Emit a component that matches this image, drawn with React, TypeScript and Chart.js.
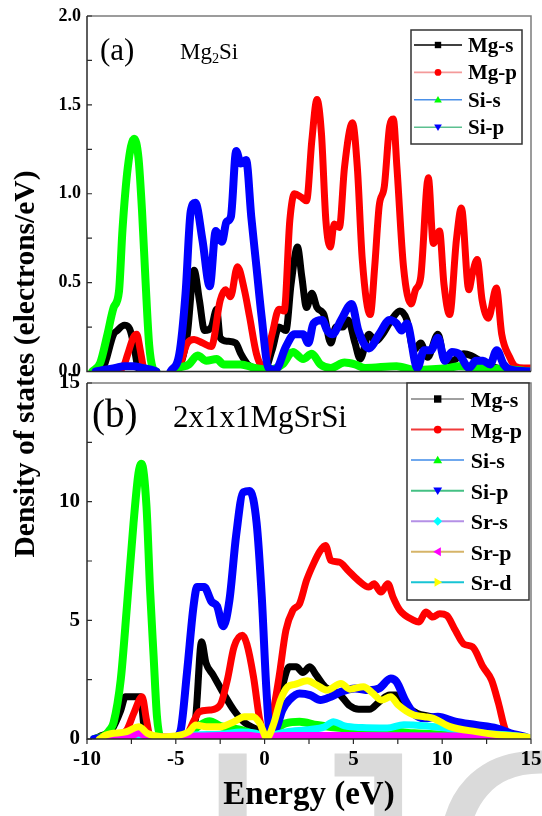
import React, { useEffect, useRef } from 'react';
import { Chart, registerables } from 'chart.js';
Chart.register(...registerables);

// ---------- tick labels ----------
const xTickValues = [-10, -5, 0, 5, 10, 15];
const aYTickValues = [0, 0.5, 1.0, 1.5, 2.0];
const bYTickValues = [0, 5, 10, 15];

// ---------- panel (a) Mg2Si ----------
const aLabels = ['Mg-s', 'Mg-p', 'Si-s', 'Si-p'];
const aMgsE = [-9.6,-9.1,-8.5,-8.3,-7.9,-7.6,-7.35,-7.15,-6.9,-6.3,-5.7,-5.2,-4.84,-4.35,-3.97,-3.67,-3.38,-3.0,-2.7,-2.5,-2.1,-1.63,-1.34,-0.95,-0.56,0,0.42,0.81,1.2,1.49,1.85,2.1,2.36,2.66,2.95,3.34,3.73,4.02,4.41,4.7,5.09,5.38,5.87,6.26,6.65,7.14,7.62,8.01,8.4,8.79,9.18,9.76,10.15,10.54,11.22,11.61,12.3,13.07,14,15];
const aMgsV = [0,0.02,0.21,0.23,0.26,0.24,0.14,0.03,0,0,null,0,0.02,0.21,0.57,0.4,0.23,0.25,0.35,0.19,0.17,0.16,0.1,0.04,0.02,0.01,0.12,0.25,0.23,0.49,0.7,0.53,0.36,0.44,0.36,0.32,0.16,0.25,0.25,0.29,0.16,0.07,0.21,0.17,0.21,0.29,0.34,0.29,0.12,0.16,0.08,0.21,0.06,0.06,0.10,0.09,0.05,0.02,0.01,0];
const aMgpE = [-8.8,-8.0,-7.7,-7.4,-7.2,-7.0,-6.8,-6.4,-5.7,-5.2,-4.84,-4.35,-3.97,-3.48,-3.0,-2.5,-2.2,-1.92,-1.53,-1.14,-0.85,-0.46,-0.07,0.42,0.81,1.1,1.42,1.68,2.07,2.36,2.66,2.95,3.2,3.45,3.7,3.92,4.21,4.5,4.95,5.22,5.5,5.95,6.2,6.45,6.74,7.04,7.25,7.45,7.82,8.25,8.5,8.79,9.22,9.5,9.85,10.1,10.42,10.8,11.08,11.5,11.7,11.97,12.25,12.6,13.05,13.35,13.8,14.1,14.6,15];
const aMgpV = [0,0.02,0.1,0.19,0.21,0.12,0.02,0,null,0,0.02,0.16,0.18,0.16,0.14,0.4,0.46,0.42,0.59,0.46,0.31,0.1,0.02,0.21,0.35,0.34,0.85,1.0,0.98,0.96,1.3,1.53,1.34,0.85,0.7,0.83,0.81,1.15,1.4,1.15,0.63,0.32,0.59,0.93,1.04,1.38,1.42,1.15,0.59,0.38,0.46,0.53,1.09,0.72,0.79,0.49,0.32,0.74,0.92,0.46,0.55,0.63,0.4,0.3,0.47,0.21,0.08,0.03,0.02,0.02];
const aSisE = [-9.7,-9.25,-8.87,-8.5,-8.2,-8.0,-7.7,-7.35,-7.1,-6.9,-6.7,-6.5,-6.3,-6.1,-5.7,-5.2,-4.84,-4.26,-3.77,-3.28,-2.7,-2.3,-1.34,-0.56,0.22,1.0,1.59,2.17,2.66,3.14,3.73,4.5,5.09,5.67,7.43,8.4,10.35,10.93,12.3,14,15];
const aSisV = [0,0.05,0.2,0.36,0.45,0.8,1.15,1.31,1.2,0.9,0.5,0.15,0.02,0,null,0,0.02,0.04,0.09,0.06,0.07,0.04,0.04,0.02,0.01,0.04,0.11,0.07,0.1,0.04,0.02,0.05,0.04,0.02,0.03,0.01,0.02,0.03,0.02,0.01,0];
const aSipE = [-9.5,-9.0,-8.4,-7.9,-7.4,-6.9,-6.4,-6.1,-5.7,-5.3,-4.8,-4.45,-4.16,-3.9,-3.5,-3.09,-2.75,-2.55,-2.4,-2.15,-1.9,-1.6,-1.34,-1.04,-0.75,-0.46,-0.17,0.22,0.61,1.2,1.68,2.17,2.46,2.75,3.24,3.53,3.82,4.31,4.9,5.28,5.87,6.45,7.04,7.43,7.72,8.01,8.6,8.98,9.37,9.76,10.15,10.54,10.93,11.52,11.9,12.3,12.7,13.07,13.46,13.85,15];
const aSipV = [0,0.01,0.02,0.03,0.03,0.02,0.01,0,null,0,0.1,0.44,0.9,0.95,0.74,0.48,0.79,0.76,0.73,0.84,0.87,1.24,1.17,1.19,0.87,0.59,0.31,0.02,0.01,0.14,0.21,0.21,0.16,0.27,0.29,0.23,0.21,0.29,0.38,0.23,0.13,0.21,0.29,0.27,0.23,0.27,0.02,0.12,0.12,0.19,0.06,0.11,0.10,0.02,0.06,0.06,0.04,0.12,0.04,0.01,0];

// ---------- panel (b) 2x1x1MgSrSi ----------
const bLabels = ['Mg-s', 'Mg-p', 'Si-s', 'Si-p', 'Sr-s', 'Sr-p', 'Sr-d'];
const bMgsE = [-9.6,-9.3,-8.6,-8.1,-7.84,-7.4,-7.0,-6.75,-6.55,-6.2,-5.5,-4.9,-4.45,-3.9,-3.55,-3.3,-2.9,-2.3,-1.72,-1.14,-0.56,0.05,0.61,1.0,1.39,1.78,2.15,2.55,2.9,3.4,4.2,4.8,5.3,5.9,6.5,7.04,7.43,8.01,8.6,9.37,10.35,11.32,12.3,13.27,14.24,15];
const bMgsV = [0,0.1,0.4,1.2,1.78,1.78,1.78,0.3,0.1,0,null,0,0.1,0.8,4.1,3.2,2.7,1.9,1.2,0.7,0.45,0.24,0.8,2.2,3.04,3.04,2.8,3.04,2.7,2.2,1.9,1.4,1.25,1.25,1.6,1.85,1.85,1.36,1.08,0.94,0.66,0.45,0.31,0.24,0.1,0];
const bMgpE = [-9.0,-8.5,-7.76,-7.37,-6.9,-6.65,-6.45,-6.2,-5.5,-4.9,-4.45,-3.96,-3.67,-3.09,-2.5,-2.1,-1.72,-1.25,-1.0,-0.62,-0.27,0.05,0.42,0.81,1.2,1.59,1.97,2.36,2.75,3.14,3.43,3.73,4.21,4.7,5.28,5.87,6.16,6.55,6.94,7.23,7.62,8.4,8.69,9.08,9.47,9.86,10.25,10.74,11.22,11.71,12.3,12.78,13.17,13.56,14.05,14.6,15];
const bMgpV = [0,0.1,0.38,1.08,1.78,0.8,0.1,0,null,0,0.1,0.8,1.15,1.22,1.43,2.48,3.88,4.37,4.0,2.6,0.8,0.24,0.94,2.6,4.58,5.42,5.7,6.68,7.38,7.94,8.15,7.52,7.45,7.1,6.68,6.4,6.54,6.19,6.54,5.98,5.42,5.0,4.93,5.35,5.14,5.28,5.21,4.58,4.0,3.88,3.04,2.48,1.5,0.38,0.1,0.05,0];
const bSisE = [-9.6,-9.0,-8.7,-8.5,-8.1,-7.75,-7.38,-7.1,-6.93,-6.65,-6.45,-6.25,-6.06,-5.87,-5.6,-5.3,-4.9,-4.3,-3.7,-3.1,-2.5,-1.34,0.05,0.6,1.2,1.97,2.95,4.5,6.45,8.4,10.35,12.3,15];
const bSisV = [0,0.15,0.4,0.7,2.5,5.6,9.1,11.2,11.6,9.8,6.3,3.5,0.94,0.1,0.05,null,0,0.2,0.55,0.75,0.55,0.38,0.1,0.4,0.66,0.73,0.59,0.45,0.38,0.24,0.17,0.1,0];
const bSipE = [-9.6,-9.0,-8.0,-7.0,-6.0,-5.75,-5.5,-5.2,-4.75,-4.37,-4.0,-3.8,-3.4,-3.0,-2.68,-2.33,-1.98,-1.6,-1.2,-0.83,-0.45,-0.16,0.1,0.3,0.61,1.0,1.39,1.97,2.56,3.14,3.73,4.31,5.09,5.87,6.45,7.1,7.43,7.91,8.4,8.98,9.76,10.74,11.9,13.07,13.85,14.63,15];
const bSipV = [0,0.05,0.08,0.08,0.05,0,null,0,0.3,2.8,5.6,6.4,6.4,5.8,5.6,4.75,5.85,8.6,10.4,10.45,9.1,6.0,2.1,0.3,0.38,1.22,1.64,1.92,1.85,1.64,1.78,1.99,2.13,2.06,2.13,2.55,2.41,1.64,1.08,0.87,0.94,0.73,0.59,0.45,0.24,0.1,0];
const bSrsE = [-9.0,-7.5,-6.0,-5.0,-4.06,-2.5,-1.34,-0.5,0.05,0.6,1.2,2.56,3.34,3.88,4.5,5.48,6.9,7.84,9.1,10.2,12.07,13.95,15];
const bSrsV = [0.05,0.1,0.05,0.05,0.17,0.2,0.3,0.25,0.1,0.2,0.3,0.4,0.5,0.73,0.55,0.48,0.46,0.6,0.55,0.46,0.25,0.15,0.05];
const bSrpE = [-9.0,-7.5,-7.1,-6.7,-6.0,-5.0,-3.0,-1.0,0.05,1.0,5.0,10.0,13.0,14.5,15];
const bSrpV = [0.1,0.12,0.25,0.12,0.1,0.1,0.14,0.16,0.08,0.15,0.15,0.13,0.1,0.05,0];
const bSrdE = [-9.3,-8.93,-7.76,-7.08,-6.6,-5.8,-5.03,-4.26,-3.87,-3.28,-2.5,-1.72,-1.14,-0.65,-0.27,0.13,0.52,0.9,1.3,1.7,2.4,2.95,3.5,4.3,4.8,5.57,6.06,6.6,7.1,7.5,8.4,9.0,9.5,10.44,11.9,13.27,14.63,15];
const bSrdV = [0,0.17,0.31,0.52,0.24,0.1,0.13,0.31,0.59,0.52,0.52,0.73,0.94,0.94,0.66,0.05,0.66,1.64,2.2,2.3,2.45,2.27,2.06,2.34,2.1,2.2,1.95,1.64,1.78,1.45,1.01,0.94,0.87,0.52,0.31,0.17,0.1,0.05];

// ---------- styles ----------
const SERIF = '"Liberation Serif", "Times New Roman", serif';
const aColors = ['#000000', '#ff0000', '#00ff00', '#0000ff'];
const aLegendLine = ['#000000', '#f49a9a', '#4a90e8', '#5cc090'];
const aShapes = ['square', 'circle', 'up', 'down'];
const aWidths = [7, 7, 8, 8];
const bColors = ['#000000', '#ff0000', '#00ff00', '#0000ff', '#00ffff', '#ff00ff', '#ffff00'];
const bLegendLine = ['#a0a0a0', '#f03a3a', '#6fa8ee', '#44c084', '#b490e6', '#d6b468', '#18c4d4'];
const bShapes = ['square', 'circle', 'up', 'down', 'diamond', 'left', 'right'];
const bWidths = [7, 7, 8, 8, 7, 7, 7];

type Pt = { x: number; y: number | null };
function pts(E: number[], V: (number | null)[]): Pt[] {
  return E.map((e, i) => ({ x: e, y: V[i] === undefined ? null : V[i] }));
}

function drawMarker(ctx: CanvasRenderingContext2D, shape: string, x: number, y: number, r: number, color: string) {
  ctx.fillStyle = color;
  ctx.beginPath();
  const t = r * 1.2;
  switch (shape) {
    case 'square': ctx.rect(x - r, y - r, 2 * r, 2 * r); break;
    case 'circle': ctx.arc(x, y, r * 1.05, 0, Math.PI * 2); break;
    case 'up': ctx.moveTo(x, y - t); ctx.lineTo(x + t, y + r * 0.85); ctx.lineTo(x - t, y + r * 0.85); break;
    case 'down': ctx.moveTo(x, y + t); ctx.lineTo(x + t, y - r * 0.85); ctx.lineTo(x - t, y - r * 0.85); break;
    case 'diamond': ctx.moveTo(x, y - t); ctx.lineTo(x + t, y); ctx.lineTo(x, y + t); ctx.lineTo(x - t, y); break;
    case 'left': ctx.moveTo(x - t, y); ctx.lineTo(x + r * 0.85, y - t); ctx.lineTo(x + r * 0.85, y + t); break;
    case 'right': ctx.moveTo(x + t, y); ctx.lineTo(x - r * 0.85, y - t); ctx.lineTo(x - r * 0.85, y + t); break;
  }
  ctx.closePath();
  ctx.fill();
}

interface LegendCfg {
  labels: string[]; lineColors: string[]; markerColors: string[]; shapes: string[];
  box: [number, number, number, number]; rowY: number; gap: number;
  line: [number, number]; markerX: number; textX: number; font: number; r: number; textDy: number; lineW: number;
}

function midpoints(v: number[]): number[] {
  const out: number[] = [];
  for (let i = 0; i < v.length; i++) {
    out.push(v[i]);
    if (i < v.length - 1) out.push((v[i] + v[i + 1]) / 2);
  }
  return out;
}

function makeDecor(yTicks: number[], xTicks: number[] | null, legend: LegendCfg) {
  return {
    id: 'decor',
    afterDatasetsDraw(chart: any) {
      const { ctx, chartArea } = chart;
      const { left, right, top, bottom } = chartArea;
      const ys = chart.scales.y; const xs = chart.scales.x;
      ctx.save();
      ctx.lineWidth = 1.5;
      ctx.strokeStyle = '#7c7c7c';
      ctx.beginPath(); ctx.moveTo(left, top); ctx.lineTo(right, top); ctx.lineTo(right, bottom); ctx.stroke();
      ctx.strokeStyle = '#2a2a2a';
      ctx.beginPath(); ctx.moveTo(left, top); ctx.lineTo(left, bottom); ctx.lineTo(right, bottom); ctx.stroke();
      ctx.lineWidth = 1.2;
      ctx.beginPath();
      for (const v of midpoints(yTicks)) {
        const py = ys.getPixelForValue(v);
        ctx.moveTo(left, py); ctx.lineTo(left + 5, py);
      }
      if (xTicks) {
        for (const e of midpoints(xTicks)) {
          const px = xs.getPixelForValue(e);
          ctx.moveTo(px, bottom); ctx.lineTo(px, bottom + 5);
        }
      }
      ctx.stroke();
      ctx.restore();
    },
    afterDraw(chart: any) {
      const ctx: CanvasRenderingContext2D = chart.ctx;
      const L = legend;
      ctx.save();
      const [x1, y1, x2, y2] = L.box;
      ctx.fillStyle = '#ffffff';
      ctx.fillRect(x1, y1, x2 - x1, y2 - y1);
      ctx.strokeStyle = '#333333';
      ctx.lineWidth = 1.5;
      ctx.strokeRect(x1, y1, x2 - x1, y2 - y1);
      L.labels.forEach((lab, i) => {
        const y = L.rowY + i * L.gap;
        ctx.strokeStyle = L.lineColors[i];
        ctx.lineWidth = L.lineW;
        ctx.beginPath(); ctx.moveTo(L.line[0], y); ctx.lineTo(L.line[1], y); ctx.stroke();
        drawMarker(ctx, L.shapes[i], L.markerX, y, L.r, L.markerColors[i]);
        ctx.fillStyle = '#000000';
        ctx.font = `bold ${L.font}px ${SERIF}`;
        ctx.textAlign = 'left';
        ctx.textBaseline = 'middle';
        ctx.fillText(lab, L.textX, y + L.textDy);
      });
      ctx.restore();
    },
  };
}

function makeDatasets(series: Pt[][], labels: string[], colors: string[], widths: number[]) {
  return series.map((data, i) => ({
    label: labels[i],
    data,
    borderColor: colors[i],
    backgroundColor: colors[i],
    borderWidth: widths[i],
    pointRadius: 0,
    pointHoverRadius: 0,
    fill: false,
    spanGaps: false,
    cubicInterpolationMode: 'monotone' as const,
    borderJoinStyle: 'round' as const,
    borderCapStyle: 'round' as const,
    clip: 0,
    order: 20 - i,
  }));
}

const fitY = (s: any) => { s.width = 87; s.paddingTop = 0; s.paddingBottom = 0; };
const fitX = (h: number) => (s: any) => { s.height = h; s.paddingLeft = 0; s.paddingRight = 0; };

function configA(): any {
  const series = [pts(aMgsE, aMgsV), pts(aMgpE, aMgpV), pts(aSisE, aSisV), pts(aSipE, aSipV)];
  const legend: LegendCfg = {
    labels: aLabels, lineColors: aLegendLine, markerColors: aColors, shapes: aShapes,
    box: [411, 30, 522, 144], rowY: 45, gap: 27.4, line: [414, 462], markerX: 438, textX: 468,
    font: 21, r: 3.2, textDy: 1.5, lineW: 1.6,
  };
  return {
    type: 'line',
    data: { datasets: makeDatasets(series, aLabels, aColors, aWidths) },
    options: {
      responsive: false,
      animation: false,
      events: [],
      layout: { padding: { left: 0, right: 11, top: 16, bottom: 20.5 } },
      plugins: { legend: { display: false }, tooltip: { enabled: false } },
      scales: {
        x: { type: 'linear', min: -10, max: 15, display: false },
        y: {
          type: 'linear', min: 0, max: 2,
          grid: { display: false, drawTicks: false },
          border: { display: false },
          afterBuildTicks: (s: any) => { s.ticks = aYTickValues.map((v) => ({ value: v })); },
          afterFit: fitY,
          ticks: {
            padding: 6, color: '#000',
            font: { family: SERIF, weight: 'bold', size: 18 },
            callback: (v: number) => Number(v).toFixed(1),
          },
        },
      },
    },
    plugins: [makeDecor(aYTickValues, null, legend)],
  };
}

function configB(): any {
  const series = [pts(bMgsE, bMgsV), pts(bMgpE, bMgpV), pts(bSisE, bSisV), pts(bSipE, bSipV), pts(bSrsE, bSrsV), pts(bSrpE, bSrpV), pts(bSrdE, bSrdV)];
  const legend: LegendCfg = {
    labels: bLabels, lineColors: bLegendLine, markerColors: bColors, shapes: bShapes,
    box: [407, 11, 529, 228], rowY: 27, gap: 30.55, line: [411, 464], markerX: 437.7, textX: 470.7,
    font: 22, r: 3.7, textDy: 2.5, lineW: 2,
  };
  return {
    type: 'line',
    data: { datasets: makeDatasets(series, bLabels, bColors, bWidths) },
    options: {
      responsive: false,
      animation: false,
      events: [],
      layout: { padding: { left: 0, right: 11, top: 11, bottom: 0 } },
      plugins: { legend: { display: false }, tooltip: { enabled: false } },
      scales: {
        x: {
          type: 'linear', min: -10, max: 15,
          grid: { display: false, drawTicks: false },
          border: { display: false },
          afterBuildTicks: (s: any) => { s.ticks = xTickValues.map((v) => ({ value: v })); },
          afterFit: fitX(77),
          ticks: {
            padding: 8, color: '#000', maxRotation: 0, autoSkip: false,
            font: { family: SERIF, weight: 'bold', size: 21 },
            callback: (v: number) => String(v),
          },
          title: {
            display: true, text: 'Energy (eV)', color: '#000',
            font: { family: SERIF, weight: 'bold', size: 33 },
            padding: { top: 0, bottom: 1 },
          },
        },
        y: {
          type: 'linear', min: 0, max: 15,
          grid: { display: false, drawTicks: false },
          border: { display: false },
          afterBuildTicks: (s: any) => { s.ticks = bYTickValues.map((v) => ({ value: v })); },
          afterFit: fitY,
          ticks: {
            padding: 7, color: '#000',
            font: { family: SERIF, weight: 'bold', size: 21 },
            callback: (v: number) => String(v),
          },
        },
      },
    },
    plugins: [makeDecor(bYTickValues, xTickValues, legend)],
  };
}

export default function App() {
  const refA = useRef<HTMLCanvasElement>(null);
  const refB = useRef<HTMLCanvasElement>(null);
  useEffect(() => {
    const ca = new Chart(refA.current as HTMLCanvasElement, configA());
    const cb = new Chart(refB.current as HTMLCanvasElement, configB());
    return () => { ca.destroy(); cb.destroy(); };
  }, []);
  const txt = (extra: React.CSSProperties): React.CSSProperties => ({
    position: 'absolute', fontFamily: SERIF, lineHeight: 1, whiteSpace: 'nowrap', color: '#000', ...extra,
  });
  return (
    <div style={{ position: 'fixed', left: 0, top: 0, width: 542, height: 816, overflow: 'hidden', background: '#fff' }}>
      <div style={{ position: 'absolute', left: 191, top: 706, fontFamily: '"Liberation Sans", Arial, sans-serif', fontSize: 300, lineHeight: 1, color: '#dadada', whiteSpace: 'nowrap' }}>IJC</div>
      <canvas ref={refA} width={542} height={392} style={{ position: 'absolute', left: 0, top: 0 }} />
      <canvas ref={refB} width={542} height={444} style={{ position: 'absolute', left: 0, top: 372 }} />
      <div style={txt({ left: 100, top: 33.5, fontSize: 31 })}>(a)</div>
      <div style={txt({ left: 180, top: 40, fontSize: 23 })}>
        Mg<span style={{ fontSize: '0.62em', verticalAlign: '-0.28em' }}>2</span>Si
      </div>
      <div style={txt({ left: 92, top: 393.7, fontSize: 39 })}>(b)</div>
      <div style={txt({ left: 173, top: 401.3, fontSize: 31 })}>2x1x1MgSrSi</div>
      <div style={{
        position: 'absolute', left: 24 - 260, top: 364 - 15, width: 520, height: 30, lineHeight: '30px',
        textAlign: 'center', fontFamily: SERIF, fontWeight: 'bold', fontSize: 29.5, whiteSpace: 'nowrap',
        transform: 'rotate(-90deg)', color: '#000',
      }}>Density of states (electrons/eV)</div>
    </div>
  );
}
